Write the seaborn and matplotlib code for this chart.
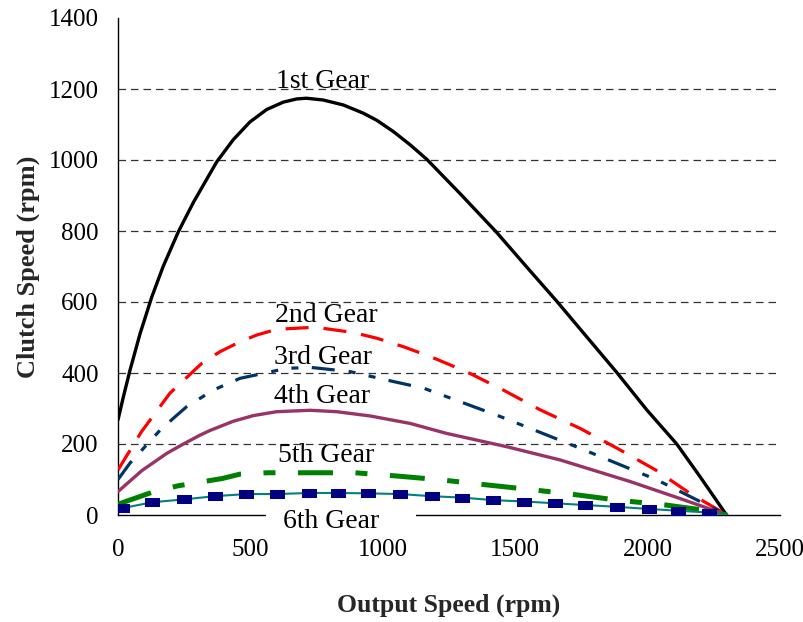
import matplotlib
matplotlib.use("Agg")
import matplotlib.pyplot as plt
from matplotlib.patches import Rectangle
import seaborn as sns

# Output speed (rpm) vs clutch speed (rpm) for each gear
gear1_x = [0, 20, 45, 83, 127, 171, 228, 285, 373, 435, 498, 561, 624, 675, 712, 775, 851,
           926, 977, 1040, 1103, 1166, 1291, 1430, 1543, 1656, 1770, 1883, 1997, 2110, 2198, 2298]
gear1_y = [268, 332, 407, 510, 613, 701, 798, 881, 995, 1057, 1107, 1142, 1163, 1172, 1174, 1169, 1155,
           1132, 1112, 1080, 1043, 1002, 906, 796, 699, 603, 502, 402, 296, 200, 108, 0]

gear2_x = [0, 89, 196, 316, 385, 461, 524, 599, 744, 889, 977, 1078, 1180, 1315, 1455, 1595,
           1745, 1885, 2030, 2160, 2300]
gear2_y = [127, 235, 343, 427, 460, 488, 507, 523, 529, 514, 498, 474, 446, 404, 352, 296,
           244, 188, 127, 61, 0]

gear3_x = [0, 45, 159, 216, 259, 360, 461, 549, 637, 725, 876, 1040, 1155, 1445, 1745, 2035, 2225, 2300]
gear3_y = [100, 146, 239, 277, 305, 352, 385, 399, 413, 416, 404, 376, 357, 277, 188, 99, 28, 0]

gear4_x = [0, 90, 185, 247, 310, 347, 435, 511, 599, 725, 826, 952, 1103, 1240, 1470, 1670, 1935, 2120, 2300]
gear4_y = [66, 125, 174, 200, 225, 238, 264, 280, 291, 295, 291, 279, 258, 230, 192, 155, 94, 47, 0]

gear5_x = [0, 25, 125, 225, 395, 460, 565, 725, 895, 1050, 1220, 1390, 1555, 1720, 1885, 2070, 2210, 2300]
gear5_y = [30, 37, 63, 82, 103, 115, 119, 119, 119, 110, 99, 85, 72, 58, 42, 28, 14, 0]

gear6_x = [15, 130, 250, 365, 485, 600, 720, 830, 945, 1065, 1185, 1300, 1415, 1535, 1650,
           1765, 1885, 2005, 2115, 2230, 2300]
gear6_y = [19, 36, 44, 53, 59, 59, 62, 62, 61, 59, 53, 49, 42, 38, 33, 28, 23, 17, 12, 7, 0]

gear_names = ["1st Gear", "2nd Gear", "3rd Gear", "4th Gear", "5th Gear", "6th Gear"]
x_ticks = [0, 500, 1000, 1500, 2000, 2500]
y_ticks = [0, 200, 400, 600, 800, 1000, 1200, 1400]

sns.set_style("white")
plt.rcParams["font.family"] = ["Liberation Serif", "DejaVu Serif"]

fig = plt.figure(figsize=(8.04, 6.22), dpi=100)
ax = fig.add_axes([118 / 804, 1 - 515 / 622, 662 / 804, 497 / 622])

sns.lineplot(x=gear1_x, y=gear1_y, ax=ax, color="black", linewidth=2.4, zorder=5)
sns.lineplot(x=gear2_x, y=gear2_y, ax=ax, color="#FF0000", linewidth=2.3,
             linestyle=(0, (7.2, 4.7)), zorder=5)
sns.lineplot(x=gear3_x, y=gear3_y, ax=ax, color="#003366", linewidth=2.3,
             linestyle=(0, (7.2, 4.4, 2.2, 4.2, 2.2, 4.2)), zorder=5)
sns.lineplot(x=gear4_x, y=gear4_y, ax=ax, color="#993366", linewidth=2.4, zorder=5)
sns.lineplot(x=gear5_x, y=gear5_y, ax=ax, color="#008000", linewidth=3.6,
             linestyle=(0, (7.0, 4.5, 2.4, 4.5)), zorder=5)

rect_marker = [(-1, -0.6), (1, -0.6), (1, 0.6), (-1, 0.6), (-1, -0.6)]
sns.lineplot(x=gear6_x, y=gear6_y, ax=ax, color="#008080", linewidth=1.5,
             marker=rect_marker, markersize=9.5, markerfacecolor="#000080",
             markeredgecolor="#000080", markevery=list(range(len(gear6_x) - 1)), zorder=5)

ax.set_xlim(0, 2500)
ax.set_ylim(0, 1400)
ax.set_xticks(x_ticks)
ax.set_yticks(y_ticks)
ax.set_xticklabels([str(v) for v in x_ticks])
ax.set_yticklabels([str(v) for v in y_ticks])

for side in ("top", "right"):
    ax.spines[side].set_visible(False)
for side in ("left", "bottom"):
    ax.spines[side].set_color("black")
    ax.spines[side].set_linewidth(1.0)

ax.tick_params(axis="x", direction="out", length=7, width=1, pad=10, labelsize=18, colors="black")
ax.tick_params(axis="y", direction="inout", length=12, width=1, pad=8, labelsize=18, colors="black")

ax.yaxis.grid(True, color="#333333", linestyle=(0, (6, 4)), linewidth=0.9)
ax.xaxis.grid(False)
gl = ax.yaxis.get_gridlines()
gl[0].set_visible(False)
gl[-1].set_visible(False)
ax.set_axisbelow(True)

ax.set_xlabel("Output Speed (rpm)", fontsize=18.5, fontweight="bold", labelpad=24)
ax.set_ylabel("Clutch Speed (rpm)", fontsize=19, fontweight="bold", labelpad=6)

# Gear name labels
label_pos = [(774, 1222), (788, 563), (774, 444), (769, 333), (787, 169), (806, -19)]
for name, (lx, ly) in zip(gear_names, label_pos):
    ax.text(lx, ly, name, ha="center", va="center", fontsize=20, color="black",
            zorder=12, clip_on=False)

# White backing behind the 6th gear label, over the axis line
ax.add_patch(Rectangle((560, -38), 565, 70, facecolor="white", edgecolor="none",
                       zorder=11, clip_on=False))

fig.savefig("out.png", dpi=100)
